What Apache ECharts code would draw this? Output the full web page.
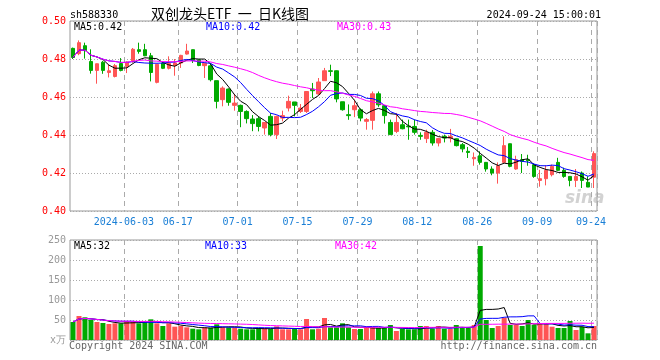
<!DOCTYPE html>
<html><head><meta charset="utf-8">
<script src="https://cdn.jsdelivr.net/npm/echarts/dist/echarts.min.js"></script>
<style>html,body{margin:0;padding:0;background:#fff}#c{width:660px;height:360px}</style>
</head><body><div id="c"></div>
<script>
const dates = [
'2024-05-21','2024-05-22','2024-05-23','2024-05-24','2024-05-27','2024-05-28','2024-05-29','2024-05-30','2024-05-31',
'2024-06-03','2024-06-04','2024-06-05','2024-06-06','2024-06-07','2024-06-11','2024-06-12','2024-06-13','2024-06-14',
'2024-06-17','2024-06-18','2024-06-19','2024-06-20','2024-06-21','2024-06-24','2024-06-25','2024-06-26','2024-06-27','2024-06-28',
'2024-07-01','2024-07-02','2024-07-03','2024-07-04','2024-07-05','2024-07-08','2024-07-09','2024-07-10','2024-07-11','2024-07-12',
'2024-07-15','2024-07-16','2024-07-17','2024-07-18','2024-07-19','2024-07-22','2024-07-23','2024-07-24','2024-07-25','2024-07-26',
'2024-07-29','2024-07-30','2024-07-31','2024-08-01','2024-08-02','2024-08-05','2024-08-06','2024-08-07','2024-08-08','2024-08-09',
'2024-08-12','2024-08-13','2024-08-14','2024-08-15','2024-08-16','2024-08-19','2024-08-20','2024-08-21','2024-08-22','2024-08-23',
'2024-08-26','2024-08-27','2024-08-28','2024-08-29','2024-08-30','2024-09-02','2024-09-03','2024-09-04','2024-09-05','2024-09-06',
'2024-09-09','2024-09-10','2024-09-11','2024-09-12','2024-09-13','2024-09-18','2024-09-19','2024-09-20','2024-09-23','2024-09-24'];

const opens = [0.4856,0.4828,0.4870,0.4787,0.4740,0.4783,0.4729,0.4708,0.4776,0.4761,
0.4787,0.4849,0.4849,0.4817,0.4677,0.4779,0.4751,0.4766,0.4779,0.4826,
0.4849,0.4796,0.4765,0.4764,0.4686,0.4586,0.4642,0.4556,0.4556,0.4524,
0.4484,0.4486,0.4437,0.4498,0.4402,0.4489,0.4542,0.4574,0.4524,0.4524,
0.4642,0.4616,0.4686,0.4738,0.4738,0.4575,0.4507,0.4533,0.4533,0.4472,
0.4477,0.4617,0.4554,0.4466,0.4419,0.4454,0.4447,0.4445,0.4398,0.4381,
0.4414,0.4358,0.4393,0.4384,0.4380,0.4349,0.4314,0.4275,0.4291,0.4256,
0.4221,0.4200,0.4256,0.4354,0.4221,0.4270,0.4270,0.4244,0.4161,0.4170,
0.4191,0.4256,0.4214,0.4182,0.4161,0.4200,0.4151,0.4178];
const closes = [0.4808,0.4886,0.4845,0.4740,0.4775,0.4740,0.4738,0.4765,0.4740,0.4784,
0.4851,0.4840,0.4817,0.4729,0.4772,0.4751,0.4777,0.4779,0.4819,0.4842,
0.4793,0.4766,0.4778,0.4691,0.4577,0.4647,0.4572,0.4568,0.4524,0.4486,
0.4460,0.4445,0.4466,0.4402,0.4498,0.4502,0.4577,0.4556,0.4542,0.4629,
0.4633,0.4679,0.4738,0.4735,0.4590,0.4533,0.4502,0.4554,0.4489,0.4481,
0.4617,0.4559,0.4502,0.4402,0.4466,0.4433,0.4443,0.4414,0.4393,0.4414,
0.4358,0.4381,0.4384,0.4393,0.4344,0.4327,0.4308,0.4282,0.4256,0.4221,
0.4200,0.4238,0.4344,0.4235,0.4270,0.4261,0.4265,0.4182,0.4170,0.4214,
0.4235,0.4214,0.4182,0.4161,0.4182,0.4161,0.4126,0.4302];
const lows = [0.4800,0.4820,0.4802,0.4723,0.4670,0.4722,0.4703,0.4703,0.4735,0.4726,
0.4780,0.4828,0.4815,0.4682,0.4672,0.4747,0.4745,0.4712,0.4753,0.4823,
0.4779,0.4762,0.4700,0.4682,0.4540,0.4551,0.4554,0.4528,0.4441,0.4461,
0.4420,0.4419,0.4402,0.4393,0.4379,0.4472,0.4524,0.4498,0.4516,0.4516,
0.4595,0.4611,0.4686,0.4710,0.4572,0.4528,0.4480,0.4494,0.4472,0.4428,
0.4428,0.4548,0.4460,0.4400,0.4410,0.4430,0.4375,0.4402,0.4375,0.4358,
0.4344,0.4340,0.4361,0.4361,0.4340,0.4309,0.4279,0.4238,0.4244,0.4207,
0.4188,0.4144,0.4253,0.4230,0.4217,0.4200,0.4238,0.4175,0.4128,0.4135,
0.4182,0.4210,0.4175,0.4130,0.4126,0.4121,0.4126,0.4121];
const highs = [0.4860,0.4898,0.4886,0.4851,0.4776,0.4790,0.4770,0.4774,0.4805,0.4787,
0.4858,0.4886,0.4880,0.4832,0.4775,0.4785,0.4814,0.4800,0.4822,0.4880,
0.4850,0.4796,0.4780,0.4779,0.4686,0.4656,0.4645,0.4616,0.4560,0.4530,
0.4505,0.4498,0.4468,0.4516,0.4502,0.4528,0.4607,0.4574,0.4563,0.4630,
0.4674,0.4700,0.4753,0.4770,0.4740,0.4575,0.4561,0.4586,0.4540,0.4489,
0.4629,0.4629,0.4556,0.4481,0.4516,0.4481,0.4481,0.4481,0.4414,0.4428,
0.4426,0.4385,0.4402,0.4432,0.4382,0.4358,0.4337,0.4308,0.4314,0.4258,
0.4235,0.4256,0.4393,0.4355,0.4291,0.4300,0.4296,0.4250,0.4217,0.4240,
0.4244,0.4280,0.4228,0.4182,0.4221,0.4208,0.4182,0.4314];
const volumes = [45,60,56.7,50,45,42.5,40,41.7,41.7,46.7,
45,41.7,46.7,51.7,41.7,35,41.7,33.3,35,31.7,
28.3,26.7,31.7,30.8,39.2,31.7,31.7,31.7,28.3,26.7,
26.7,30,30,28.3,34.2,26.7,26.7,28.3,26.7,52.5,
26.7,28.3,55,31.7,31.7,41.7,31.7,27.5,27.5,31.7,
31.7,30,30,37.5,22.5,27.5,26.7,26.7,35,35,
28.3,35,28.3,28.3,37.5,30,30,37.5,235,50,
30,35,55.8,37.5,37.5,35,50,37.5,42,40,
33.3,30,30,47.5,25,33.3,16.7,35];
const priceTicks = [0.40,0.42,0.44,0.46,0.48,0.50];
const volumeTicks = [0,50,100,150,200,250];
const labelDates = ['2024-06-03','2024-06-17','2024-07-01','2024-07-15','2024-07-29','2024-08-12','2024-08-26','2024-09-09','2024-09-24'];

function ma(arr, n) {
  return arr.map((_, i) => {
    const s = Math.max(0, i - n + 1);
    let sum = 0;
    for (let k = s; k <= i; k++) sum += arr[k];
    return sum / (i - s + 1);
  });
}
const ma5 = ma(closes, 5), ma10 = ma(closes, 10), ma30 = ma(closes, 30);
const vma5 = ma(volumes, 5), vma10 = ma(volumes, 10), vma30 = ma(volumes, 30);
const last = a => a[a.length - 1];

const UP = '#ff5555', DOWN = '#00aa00';
const MONO = '"DejaVu Sans Mono", monospace';
const kdata = dates.map((d, i) => [opens[i], closes[i], lows[i], highs[i]]);
const labelIdx = new Set(labelDates.map(d => dates.indexOf(d)));
const showIdx = (idx) => labelIdx.has(idx);
const lineS = (name, data, color, xi, yi) => ({
  type: 'line', name, data, xAxisIndex: xi, yAxisIndex: yi, symbol: 'none', silent: true,
  lineStyle: { color, width: 1 }, z: 5
});

const chart = echarts.init(document.getElementById('c'), null, { renderer: 'canvas' });
chart.setOption({
  animation: false,
  backgroundColor: '#fff',
  grid: [
    { left: 70, right: 63, top: 21, height: 190, show: true, borderColor: '#999', borderWidth: 1 },
    { left: 70, right: 63, top: 240, height: 100, show: true, borderColor: '#999', borderWidth: 1 }
  ],
  xAxis: [
    { type: 'category', gridIndex: 0, data: dates, boundaryGap: true,
      axisLine: { show: false }, axisTick: { show: false },
      axisLabel: { interval: showIdx, color: '#1a7fd6', fontFamily: MONO, fontSize: 10, margin: 6,
        padding: [0, 6, 0, 0], formatter: (v) => v === '2024-06-03' ? v : v.slice(5) },
      splitLine: { show: true, interval: showIdx, lineStyle: { color: '#aaa', type: [5, 4], width: 1 } } },
    { type: 'category', gridIndex: 1, data: dates, boundaryGap: true,
      axisLine: { show: false }, axisTick: { show: false }, axisLabel: { show: false },
      splitLine: { show: true, interval: showIdx, lineStyle: { color: '#aaa', type: [5, 4], width: 1 } } }
  ],
  yAxis: [
    { type: 'value', gridIndex: 0, min: priceTicks[0], max: priceTicks[priceTicks.length - 1], interval: 0.02,
      axisLine: { show: false }, axisTick: { show: false },
      axisLabel: { color: '#ff0000', fontFamily: MONO, fontSize: 10, margin: 4, formatter: v => v.toFixed(2) },
      splitLine: { lineStyle: { color: '#aaa', type: [1, 2] } } },
    { type: 'value', gridIndex: 1, min: volumeTicks[0], max: volumeTicks[volumeTicks.length - 1], interval: 50,
      axisLine: { show: false }, axisTick: { show: false },
      axisLabel: { color: '#999', fontFamily: MONO, fontSize: 10, margin: 4, formatter: v => v === 0 ? 'x万' : String(v) },
      splitLine: { lineStyle: { color: '#aaa', type: [1, 2] } } }
  ],
  series: [
    { type: 'candlestick', name: 'K', data: kdata, xAxisIndex: 0, yAxisIndex: 0, barWidth: 4, silent: true,
      itemStyle: { color: UP, color0: DOWN, borderColor: UP, borderColor0: DOWN, borderWidth: 1 } },
    lineS('MA5', ma5, '#000000', 0, 0),
    lineS('MA10', ma10, '#0000ff', 0, 0),
    lineS('MA30', ma30, '#ff00ff', 0, 0),
    { type: 'bar', name: 'VOL', xAxisIndex: 1, yAxisIndex: 1, barWidth: 5, silent: true,
      data: volumes.map((v, i) => ({ value: v, itemStyle: { color: closes[i] >= opens[i] ? UP : DOWN } })) },
    lineS('VMA5', vma5, '#000000', 1, 1),
    lineS('VMA10', vma10, '#0000ff', 1, 1),
    lineS('VMA30', vma30, '#ff00ff', 1, 1)
  ],
  graphic: [
    { type: 'text', left: 70, top: 10, style: { text: 'sh588330', font: '10px ' + MONO, fill: '#000' } },
    { type: 'text', left: 151, top: 7, style: { text: '双创龙头ETF  一  日K线图', font: '14px "Noto Sans CJK SC"', fill: '#000' } },
    { type: 'text', right: 59, top: 10, style: { text: '2024-09-24 15:00:01', font: '10px ' + MONO, fill: '#000' } },
    { type: 'text', left: 74, top: 22, style: { text: 'MA5:' + last(ma5).toFixed(2), font: '10px ' + MONO, fill: '#000' } },
    { type: 'text', left: 206, top: 22, style: { text: 'MA10:' + last(ma10).toFixed(2), font: '10px ' + MONO, fill: '#0000ff' } },
    { type: 'text', left: 337, top: 22, style: { text: 'MA30:' + last(ma30).toFixed(2), font: '10px ' + MONO, fill: '#ff00ff' } },
    { type: 'text', left: 74, top: 241, style: { text: 'MA5:' + Math.round(last(vma5)), font: '10px ' + MONO, fill: '#000' } },
    { type: 'text', left: 205, top: 241, style: { text: 'MA10:' + Math.round(last(vma10)), font: '10px ' + MONO, fill: '#0000ff' } },
    { type: 'text', left: 335, top: 241, style: { text: 'MA30:' + Math.round(last(vma30)), font: '10px ' + MONO, fill: '#ff00ff' } },
    { type: 'text', left: 69, top: 341, style: { text: 'Copyright 2024 SINA.COM', font: '10px ' + MONO, fill: '#666' } },
    { type: 'text', right: 63, top: 341, style: { text: 'http://finance.sina.com.cn', font: '10px ' + MONO, fill: '#666' } },
    { type: 'text', left: 565, top: 190, z: 0, style: { text: 'sina', font: 'italic bold 17px "DejaVu Sans"', fill: 'rgba(180,180,180,0.6)' } }
  ]
});
</script></body></html>
